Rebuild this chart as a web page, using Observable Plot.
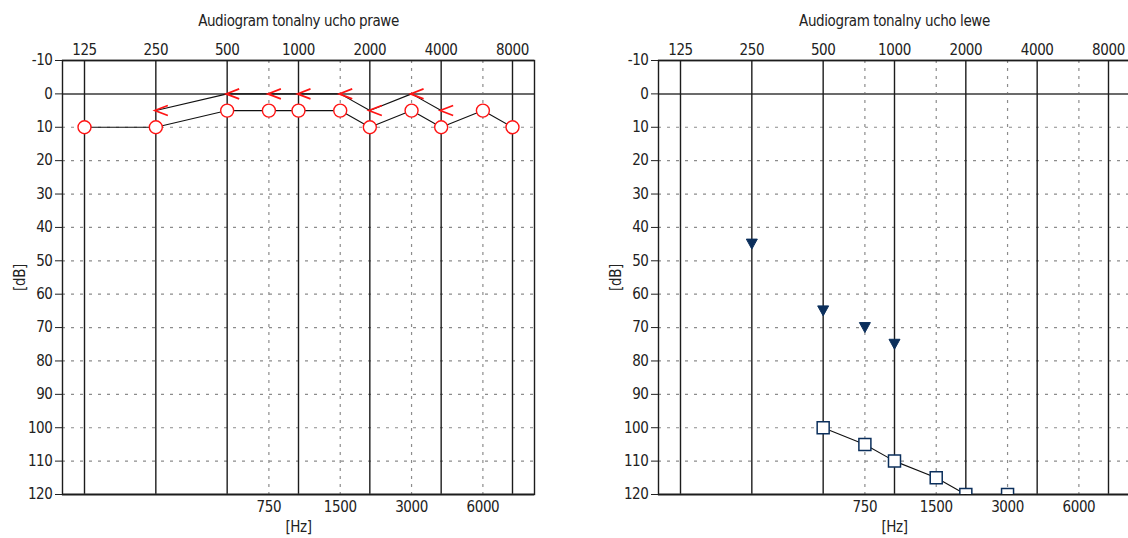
<!DOCTYPE html>
<html>
<head>
<meta charset="utf-8">
<script src="https://cdn.jsdelivr.net/npm/d3@7"></script>
<script src="https://cdn.jsdelivr.net/npm/@observablehq/plot@0.6"></script>
<style>
  html, body { margin: 0; padding: 0; background: #fff; overflow: hidden; }
  #wrap { display: flex; flex-wrap: nowrap; width: 1192px; }
  #wrap > * { flex: none; }
  #wrap svg text { letter-spacing: -0.4px; }
</style>
</head>
<body>
<div id="wrap"></div>
<script>
// ---- tick labels / categories ----
const octaves = [125, 250, 500, 1000, 2000, 4000, 8000];
const interOctaves = [750, 1500, 3000, 6000];
const dbTicks = [-10, 0, 10, 20, 30, 40, 50, 60, 70, 80, 90, 100, 110, 120];
const titles = ["Audiogram tonalny ucho prawe", "Audiogram tonalny ucho lewe"];
const xUnit = "[Hz]";
const yUnit = "[dB]";

// ---- right ear (left panel) ----
const rightAirFreq = [125, 250, 500, 750, 1000, 1500, 2000, 3000, 4000, 6000, 8000];
const rightAirDb   = [10, 10, 5, 5, 5, 5, 10, 5, 10, 5, 10];
const rightBoneFreq = [250, 500, 750, 1000, 1500, 2000, 3000, 4000];
const rightBoneDb   = [5, 0, 0, 0, 0, 5, 0, 5];

// ---- left ear (right panel) ----
const leftBoneFreq = [250, 500, 750, 1000];
const leftBoneDb   = [45, 65, 70, 75];
const leftAirFreq = [500, 750, 1000, 1500, 2000, 3000];
const leftAirDb   = [100, 105, 110, 115, 120, 120];
const leftAirConnected = [true, true, true, true, true, false];

const RED = "#ff1414";
const NAVY = "#0b2f5c";
const FONT = '"Liberation Sans Narrow", "DejaVu Sans Condensed", sans-serif';

const zip = (f, d) => f.map((x, i) => ({f: x, db: d[i]}));

const arrowLeft = {
  draw(ctx) { ctx.moveTo(12, -5); ctx.lineTo(-1, 0); ctx.lineTo(12, 5); }
};
const triDown = {
  draw(ctx) { ctx.moveTo(-5.5, -5); ctx.lineTo(5.5, -5); ctx.lineTo(0, 5); ctx.closePath(); }
};
const squareSym = {
  draw(ctx) { ctx.rect(-6, -6, 12, 12); }
};

function panel(title, dataMarks) {
  return Plot.plot({
    width: 596,
    height: 538,
    marginLeft: 62,
    marginRight: 62,
    marginTop: 60,
    marginBottom: 44,
    style: {fontFamily: FONT, fontSize: "15px", color: "#222", background: "#fff", overflow: "visible"},
    x: {type: "log", domain: [100.94, 9907]},
    y: {domain: [-10, 120], reverse: true},
    marks: [
      Plot.ruleY(dbTicks.filter(d => d > 0 && d < 120), {stroke: "#8c8c8c", strokeDasharray: "3,6", strokeWidth: 1.2}),
      Plot.ruleX(interOctaves, {stroke: "#8c8c8c", strokeDasharray: "3,5", strokeWidth: 1.2}),
      Plot.ruleY([0], {stroke: "#6b6b6b", strokeWidth: 2}),
      Plot.ruleX(octaves, {stroke: "#1c1c1c", strokeWidth: 1.4}),
      Plot.ruleY([-10], {stroke: "#1c1c1c", strokeWidth: 1.5}),
      Plot.ruleY([120], {stroke: "#555", strokeWidth: 2}),
      Plot.frame({stroke: "#1c1c1c", strokeWidth: 1.4}),
      ...dataMarks,
      Plot.axisY({ticks: dbTicks, tickSize: 7, tickPadding: 3, tickFormat: d => String(d),
        label: yUnit, labelAnchor: "center", labelOffset: 48, labelArrow: "none", fontSize: 15}),
      Plot.axisX({anchor: "top", ticks: octaves, tickSize: 0, tickFormat: () => "", label: null}),
      Plot.text(octaves, {x: d => d, frameAnchor: "top", dy: -16, text: d => String(d), fill: "#222", fontSize: 15}),
      Plot.text(interOctaves, {x: d => d, frameAnchor: "bottom", dy: 17, text: d => String(d), fill: "#222", fontSize: 15}),
      Plot.text([title], {frameAnchor: "top", dy: -45, text: d => d, fill: "#222", fontSize: 15}),
      Plot.text([xUnit], {frameAnchor: "bottom", dy: 37, text: d => d, fill: "#222", fontSize: 15})
    ]
  });
}

const rightAir = zip(rightAirFreq, rightAirDb);
const rightBone = zip(rightBoneFreq, rightBoneDb);
const leftBone = zip(leftBoneFreq, leftBoneDb);
const leftAir = zip(leftAirFreq, leftAirDb);

const p1 = panel(titles[0], [
  Plot.line(rightBone, {x: "f", y: "db", stroke: "#111", strokeWidth: 1.1}),
  Plot.line(rightAir, {x: "f", y: "db", stroke: "#111", strokeWidth: 1.1}),
  Plot.dot(rightBone, {x: "f", y: "db", symbol: arrowLeft, fill: "none", stroke: RED, strokeWidth: 1.7}),
  Plot.dot(rightAir, {x: "f", y: "db", r: 6.5, fill: "#fff", stroke: RED, strokeWidth: 1.4})
]);

const p2 = panel(titles[1], [
  Plot.line(leftAir.filter((d, i) => leftAirConnected[i]), {x: "f", y: "db", stroke: "#111", strokeWidth: 1.1}),
  Plot.dot(leftBone, {x: "f", y: "db", symbol: triDown, fill: NAVY, stroke: NAVY, strokeWidth: 1}),
  Plot.dot(leftAir, {x: "f", y: "db", symbol: squareSym, fill: "#fff", stroke: NAVY, strokeWidth: 1.5, clip: true})
]);

const wrap = document.getElementById("wrap");
wrap.appendChild(p1);
wrap.appendChild(p2);
</script>
</body>
</html>
